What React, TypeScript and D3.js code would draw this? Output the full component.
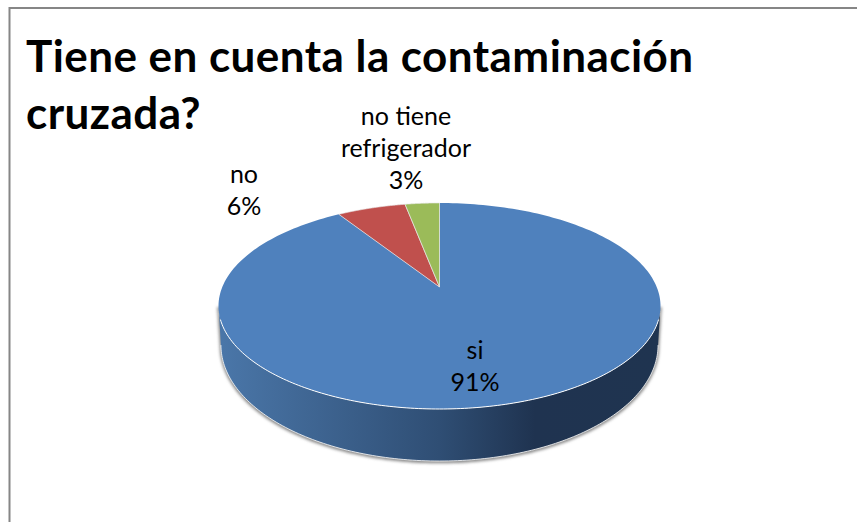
import React from "react";
import * as d3 from "d3";

const categories = ["si", "no", "no tiene refrigerador"];
const shares = [91, 6, 3];
const sliceColors = ["#4f81bd", "#c0504d", "#9bbb59"];
const titleLines = ["Tiene en cuenta la contaminación", "cruzada?"];
const labelLines = [["si"], ["no"], ["no tiene", "refrigerador"]];
const labelAnchors: [number, number][] = [[475, 359], [244, 183], [406, 125]];

const W = 857;
const H = 522;
const FONT = "Lato, 'Open Sans', sans-serif";

// Tilted disc: perspective projection of a circle onto the page.
type Disc = { cx: number; cy: number; r: number; a: number; c: number };
const topDisc: Disc = { cx: 439.5, cy: 287, r: 217.2, a: 99.5, c: -0.1845 };
const baseDisc: Disc = { cx: 439.5, cy: 323.7, r: 214.8, a: 112, c: -0.1845 };

const project = (d: Disc, angle: number): [number, number] => {
  const u = Math.sin(angle);
  const v = -Math.cos(angle);
  const w = 1 + d.c * v;
  return [d.cx + (d.r * u) / w, d.cy + (d.a * v) / w];
};

const arcPoints = (d: Disc, from: number, to: number, n = 160) =>
  d3.range(n + 1).map((i) => project(d, from + ((to - from) * i) / n));

const line = d3.line<[number, number]>();

export default function App() {
  const pie = d3.pie<number>().sort(null)(shares);
  // Front half of the rim, between the disc's widest points.
  const frontFrom = Math.PI * 0.559;
  const frontTo = Math.PI * 1.441;
  const wall = [
    ...arcPoints(topDisc, frontFrom, frontTo),
    ...arcPoints(baseDisc, frontTo, frontFrom),
  ];
  const baseRim = arcPoints(baseDisc, frontFrom, frontTo);
  const topRim = arcPoints(topDisc, Math.PI * 0.6, Math.PI * 1.4);
  const total = d3.sum(shares);

  return (
    <svg
      width={W}
      height={H}
      viewBox={`0 0 ${W} ${H}`}
      style={{ position: "absolute", left: 0, top: 0, background: "#fff" }}
    >
      <defs>
        <linearGradient id="wallShade" gradientUnits="userSpaceOnUse" x1="222" x2="657" y1="0" y2="0">
          <stop offset="0" stopColor="#4a76a8" />
          <stop offset="0.5" stopColor="#2f4e74" />
          <stop offset="0.72" stopColor="#1f3350" />
          <stop offset="1" stopColor="#1f3450" />
        </linearGradient>
        <filter id="soft" x="-5%" y="-5%" width="110%" height="110%">
          <feGaussianBlur stdDeviation="1.4" />
        </filter>
      </defs>

      <path d={`M9.5 ${H}V8H${W}`} fill="none" stroke="#868686" strokeWidth={2} />

      <g fontFamily={FONT} fontWeight={700} fontSize={44} letterSpacing={0.45} fill="#000">
        {titleLines.map((t, i) => (
          <text key={t} x={26} y={72 + i * 57}>{t}</text>
        ))}
      </g>

      <path d={(line(wall) ?? "") + "Z"} transform="translate(0,1)" fill="#8a8a8a" stroke="#8a8a8a" strokeWidth={2.5} filter="url(#soft)" />
      <path d={(line(wall) ?? "") + "Z"} fill="url(#wallShade)" />
      <path d={line(baseRim) ?? ""} fill="none" stroke="#fff" strokeWidth={0.8} />

      {pie.map((s, i) => {
        // Slices run clockwise from twelve o'clock, closing at the disc's projected centre.
        const rim = arcPoints(topDisc, s.startAngle, s.endAngle, 240);
        return (
          <path
            key={categories[i]}
            d={(line([[topDisc.cx, topDisc.cy], ...rim]) ?? "") + "Z"}
            fill={sliceColors[i]}
            stroke={i === 0 ? "none" : "#e8e8e8"}
            strokeWidth={i === 0 ? 0 : 0.7}
          />
        );
      })}
      <path d={line(topRim) ?? ""} fill="none" stroke="#fff" strokeWidth={1} />

      <g fontFamily={FONT} fontSize={25} fill="#000" textAnchor="middle">
        {labelLines.map((lines, i) => {
          const [x, y] = labelAnchors[i];
          const pct = `${Math.round((shares[i] / total) * 100)}%`;
          return [...lines, pct].map((t, j) => (
            <text key={`${i}-${j}`} x={x} y={y + j * 32}>{t}</text>
          ));
        })}
      </g>
    </svg>
  );
}
